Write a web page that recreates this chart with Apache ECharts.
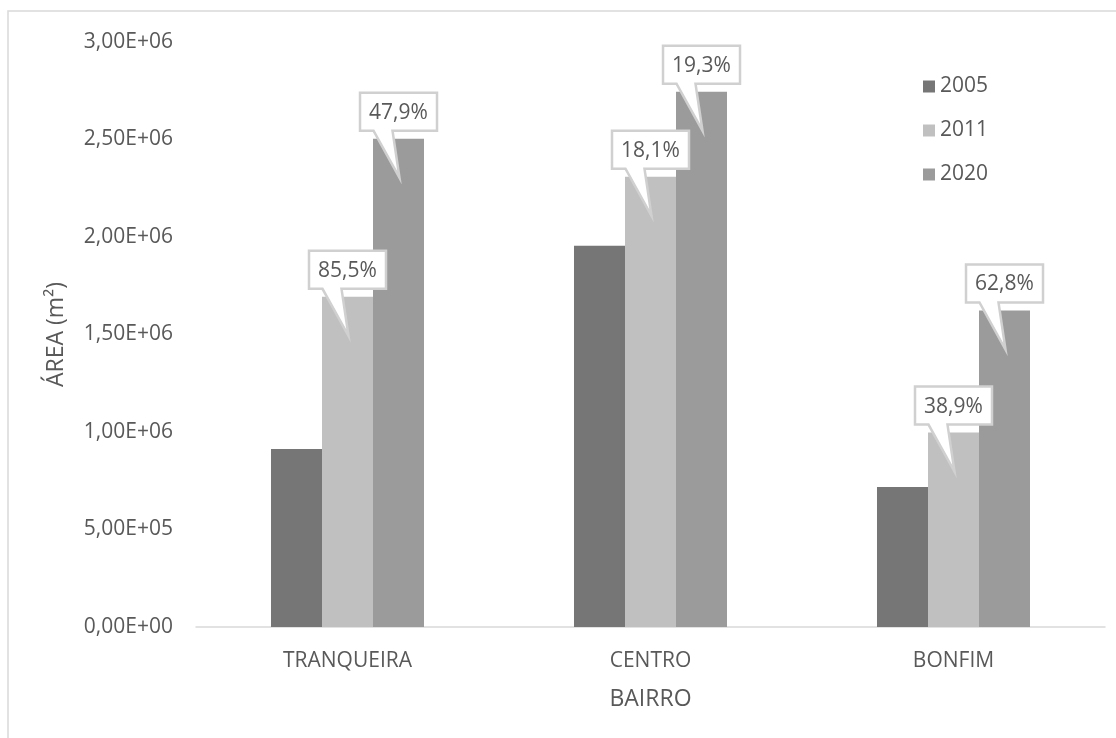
<!DOCTYPE html>
<html>
<head>
<meta charset="utf-8">
<script src="https://cdn.jsdelivr.net/npm/echarts@6/dist/echarts.min.js"></script>
<style>
html,body{margin:0;padding:0;background:#fff;}
#chart{width:1116px;height:738px;}
</style>
</head>
<body>
<div id="chart"></div>
<script>
const categories = ['TRANQUEIRA', 'CENTRO', 'BONFIM'];
const years = ['2005', '2011', '2020'];
const area2005 = [913000, 1955000, 718000];
const area2011 = [1693000, 2309000, 997000];
const area2020 = [2504000, 2745000, 1623000];
const growth2011 = ['85,5%', '18,1%', '38,9%'];
const growth2020 = ['47,9%', '19,3%', '62,8%'];
const yMin = 0, yMax = 3000000, yStep = 500000;

const FONT = '"Open Sans", "Noto Sans", sans-serif';
const TXT = '#595959';
const colors = ['#767676', '#c0c0c0', '#9b9b9b'];
const catGap = 0.495;

function fmtExp(v) {
  const s = Number(v).toExponential(2);
  const parts = s.split('e');
  const mant = parts[0].replace('.', ',');
  let exp = parseInt(parts[1], 10);
  const sign = exp < 0 ? '-' : '+';
  exp = Math.abs(exp);
  return mant + 'E' + sign + (exp < 10 ? '0' + exp : '' + exp);
}

function calloutRenderer(values, labels, slot) {
  return function (params, api) {
    const idx = params.dataIndex;
    const pt = api.coord([idx, values[idx]]);
    const band = api.size([1, 0])[0];
    const bw = band * (1 - catGap) / 3;
    const cx = pt[0] + (slot - 1) * bw;
    const top = pt[1];
    const w = 77, h = 38;
    const x0 = cx - w / 2, x1 = cx + w / 2;
    const y1 = top - 8, y0 = y1 - h;
    const tipY = top + 39;
    return {
      type: 'group',
      children: [
        {
          type: 'polygon',
          shape: {
            points: [[x0, y0], [x1, y0], [x1, y1], [cx - 6, y1], [cx + 1, tipY], [cx - 25, y1], [x0, y1]]
          },
          style: { fill: '#ffffff', stroke: '#d0d0d0', lineWidth: 2.5, lineJoin: 'miter' }
        },
        {
          type: 'text',
          style: {
            x: cx, y: (y0 + y1) / 2 + 1,
            text: labels[idx],
            fill: TXT,
            font: '21px ' + FONT,
            align: 'center',
            verticalAlign: 'middle'
          }
        }
      ]
    };
  };
}

const chart = echarts.init(document.getElementById('chart'));
chart.setOption({
  backgroundColor: '#ffffff',
  animation: false,
  textStyle: { fontFamily: FONT },
  graphic: [{
    type: 'rect',
    shape: { x: 8, y: 11, width: 1300, height: 900 },
    style: { fill: 'none', stroke: '#d9d9d9', lineWidth: 1.5 },
    silent: true, z: -10
  }],
  grid: { left: 196, right: 11, top: 42, bottom: 111, containLabel: false },
  legend: {
    data: years,
    orient: 'vertical',
    left: 923,
    top: 76,
    padding: 0,
    itemWidth: 12,
    itemHeight: 12,
    itemGap: 23,
    icon: 'rect',
    textStyle: { color: TXT, fontSize: 21, fontFamily: FONT }
  },
  xAxis: {
    type: 'category',
    data: categories,
    name: 'BAIRRO',
    nameLocation: 'middle',
    nameGap: 61,
    nameTextStyle: { color: TXT, fontSize: 23, fontFamily: FONT },
    axisLine: { show: true, lineStyle: { color: '#d9d9d9', width: 1.5 } },
    axisTick: { show: false },
    axisLabel: { color: TXT, fontSize: 21, margin: 24, fontFamily: FONT },
    splitLine: { show: false }
  },
  yAxis: {
    type: 'value',
    min: yMin, max: yMax, interval: yStep,
    name: 'ÁREA (m²)',
    nameLocation: 'middle',
    nameGap: 128,
    nameRotate: 90,
    nameTextStyle: { color: TXT, fontSize: 23, fontFamily: FONT },
    axisLine: { show: false },
    axisTick: { show: false },
    splitLine: { show: false },
    axisLabel: { color: TXT, fontSize: 21, margin: 23, fontFamily: FONT, formatter: fmtExp }
  },
  series: [
    { name: years[0], type: 'bar', data: area2005, barGap: '0%', barCategoryGap: (catGap * 100) + '%', itemStyle: { color: colors[0] } },
    { name: years[1], type: 'bar', data: area2011, barGap: '0%', barCategoryGap: (catGap * 100) + '%', itemStyle: { color: colors[1] } },
    { name: years[2], type: 'bar', data: area2020, barGap: '0%', barCategoryGap: (catGap * 100) + '%', itemStyle: { color: colors[2] } },
    {
      name: 'growth2011', type: 'custom', z: 10, silent: true,
      data: area2011.map((v, i) => [i, v]),
      encode: { x: 0, y: 1 },
      renderItem: calloutRenderer(area2011, growth2011, 1)
    },
    {
      name: 'growth2020', type: 'custom', z: 11, silent: true,
      data: area2020.map((v, i) => [i, v]),
      encode: { x: 0, y: 1 },
      renderItem: calloutRenderer(area2020, growth2020, 2)
    }
  ]
});
</script>
</body>
</html>
